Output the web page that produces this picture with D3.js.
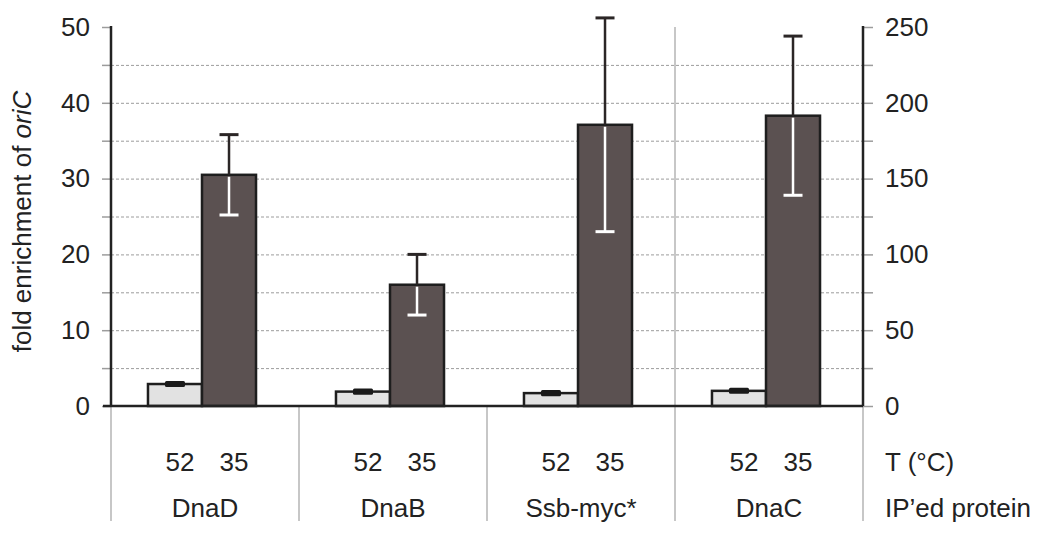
<!DOCTYPE html>
<html>
<head>
<meta charset="utf-8">
<script src="https://cdn.jsdelivr.net/npm/d3@7"></script>
<style>
  html, body { margin: 0; padding: 0; background: #fff; }
  svg { display: block; }
  text { font-family: "Liberation Sans", Arial, Helvetica, sans-serif; fill: #222; }
</style>
</head>
<body>
<svg id="chart" width="1050" height="536"></svg>
<script>
// ---- data ----
const categories = ["DnaD", "DnaB", "Ssb-myc*", "DnaC"];
const temps = ["52", "35"];
const values52 = [2.9, 1.9, 1.7, 2.0];
const errors52 = [0.4, 0.4, 0.4, 0.4];
const values35 = [30.5, 16.0, 37.1, 38.3];
const errors35 = [5.3, 4.0, 14.1, 10.5];
const leftTicks = [0, 10, 20, 30, 40, 50];
const rightTicks = [0, 50, 100, 150, 200, 250];
const gridTicks = [5, 10, 15, 20, 25, 30, 35, 40, 45];
const minorTicks = [5, 15, 25, 35, 45];
const minorRightTicks = [25, 75, 125, 175, 225];

// ---- layout ----
const svg = d3.select("#chart");
const x0 = 111, x1 = 863, yBase = 406, yTop = 27, yBottom = 521;
const FS = "26px";

const x = d3.scaleBand().domain(categories).range([x0, x1]).padding(0);
const xi = d3.scaleBand().domain(temps).range([0, x.bandwidth()]).paddingInner(0).paddingOuter(0.74);
const y = d3.scaleLinear().domain([0, 50]).range([yBase, yTop]);
const yR = d3.scaleLinear().domain([0, 250]).range([yBase, yTop]);

const shift = -3;
const colors = { "52": "#e2e2e2", "35": "#5b5151" };

// gridlines
svg.append("g").selectAll("line").data(gridTicks).join("line")
  .attr("x1", x0).attr("x2", x1)
  .attr("y1", d => y(d) + 0.5).attr("y2", d => y(d) + 0.5)
  .attr("stroke", "#9c9c9c").attr("stroke-width", 1).attr("stroke-dasharray", "3,2");

// category separators
svg.append("g").selectAll("line").data(categories.slice(1)).join("line")
  .attr("x1", d => x(d)).attr("x2", d => x(d))
  .attr("y1", (d, i) => i === 2 ? yTop : yBase).attr("y2", yBottom)
  .attr("stroke", "#b4b4b4").attr("stroke-width", 1.5);
[x0, x1].forEach(xx => {
  svg.append("line").attr("x1", xx).attr("x2", xx).attr("y1", yBase).attr("y2", yBottom)
    .attr("stroke", "#b4b4b4").attr("stroke-width", 1.5);
});

// left axis
const leftAxis = d3.axisLeft(y).tickValues(leftTicks.concat(minorTicks)).tickSize(9).tickPadding(12)
  .tickFormat(d => leftTicks.includes(d) ? d : "");
const gl = svg.append("g").attr("transform", `translate(${x0},0)`).call(leftAxis);
gl.select(".domain").remove();
gl.selectAll(".tick line").attr("stroke", "#9c9c9c").attr("stroke-width", 1.5);
gl.selectAll(".tick text").style("font-size", FS).attr("fill", "#222")
  .style("font-family", '"Liberation Sans", Arial, sans-serif');

// right axis
const rightAxis = d3.axisRight(yR).tickValues(rightTicks.concat(minorRightTicks)).tickSize(10).tickPadding(12)
  .tickFormat(d => rightTicks.includes(d) ? d : "");
const gr = svg.append("g").attr("transform", `translate(${x1},0)`).call(rightAxis);
gr.select(".domain").remove();
gr.selectAll(".tick line").attr("stroke", "#9c9c9c").attr("stroke-width", 1.5);
gr.selectAll(".tick text").style("font-size", FS).attr("fill", "#222")
  .style("font-family", '"Liberation Sans", Arial, sans-serif');

// axis lines
svg.append("line").attr("x1", x0).attr("x2", x0).attr("y1", yTop - 1).attr("y2", yBase)
  .attr("stroke", "#222").attr("stroke-width", 2.5);
svg.append("line").attr("x1", x1).attr("x2", x1).attr("y1", yTop - 1).attr("y2", yBase)
  .attr("stroke", "#222").attr("stroke-width", 2.5);

// bars
const rows = categories.map((c, i) => ([
  { cat: c, t: "52", v: values52[i], e: errors52[i] },
  { cat: c, t: "35", v: values35[i], e: errors35[i] }
])).flat();

const bx = d => x(d.cat) + xi(d.t) + shift;
const bw = xi.bandwidth();

svg.append("g").selectAll("rect").data(rows).join("rect")
  .attr("x", bx).attr("width", bw)
  .attr("y", d => y(d.v)).attr("height", d => yBase - y(d.v))
  .attr("fill", d => colors[d.t]).attr("stroke", "#1e1e1e").attr("stroke-width", 2.5);

// baseline
svg.append("line").attr("x1", x0 - 8).attr("x2", x1).attr("y1", yBase).attr("y2", yBase)
  .attr("stroke", "#222").attr("stroke-width", 2.5);

// error bars for 35 series
const eb = svg.append("g");
const hi = rows.filter(d => d.t === "35");
const cx = d => bx(d) + bw / 2;
eb.selectAll("line.up").data(hi).join("line").attr("class", "up")
  .attr("x1", cx).attr("x2", cx).attr("y1", d => y(d.v)).attr("y2", d => y(d.v + d.e))
  .attr("stroke", "#2b2626").attr("stroke-width", 2.5);
eb.selectAll("line.upcap").data(hi).join("line").attr("class", "upcap")
  .attr("x1", d => cx(d) - 9.5).attr("x2", d => cx(d) + 9.5)
  .attr("y1", d => y(d.v + d.e)).attr("y2", d => y(d.v + d.e))
  .attr("stroke", "#2b2626").attr("stroke-width", 3);
eb.selectAll("line.dn").data(hi).join("line").attr("class", "dn")
  .attr("x1", cx).attr("x2", cx).attr("y1", d => y(d.v) + 2).attr("y2", d => y(d.v - d.e))
  .attr("stroke", "#ffffff").attr("stroke-width", 2.5);
eb.selectAll("line.dncap").data(hi).join("line").attr("class", "dncap")
  .attr("x1", d => cx(d) - 9.5).attr("x2", d => cx(d) + 9.5)
  .attr("y1", d => y(d.v - d.e)).attr("y2", d => y(d.v - d.e))
  .attr("stroke", "#ffffff").attr("stroke-width", 3);

// error marks for 52 series
const lo = rows.filter(d => d.t === "52");
eb.selectAll("rect.lo").data(lo).join("rect").attr("class", "lo")
  .attr("x", d => cx(d) - 10).attr("width", 20)
  .attr("y", d => y(d.v + d.e)).attr("height", d => y(d.v - d.e) - y(d.v + d.e))
  .attr("rx", 1.5)
  .attr("fill", "#1a1a1a");

// bottom labels: temperatures
svg.append("g").selectAll("text").data(rows).join("text")
  .attr("x", d => bx(d) + bw / 2 + 5).attr("y", 471)
  .attr("text-anchor", "middle").style("font-size", FS)
  .text(d => d.t);

// bottom labels: proteins
svg.append("g").selectAll("text").data(categories).join("text")
  .attr("x", d => x(d) + x.bandwidth() / 2).attr("y", 517)
  .attr("text-anchor", "middle").style("font-size", FS)
  .text(d => d);

svg.append("text").attr("x", 885).attr("y", 471).style("font-size", FS).text("T (°C)");
svg.append("text").attr("x", 885).attr("y", 517).style("font-size", FS).text("IP’ed protein");

// y label
const yl = svg.append("text")
  .attr("transform", `translate(31,${(yTop + yBase) / 2 + 5}) rotate(-90)`)
  .attr("text-anchor", "middle").style("font-size", FS);
yl.append("tspan").text("fold enrichment of ");
yl.append("tspan").style("font-style", "italic").text("oriC");
</script>
</body>
</html>
